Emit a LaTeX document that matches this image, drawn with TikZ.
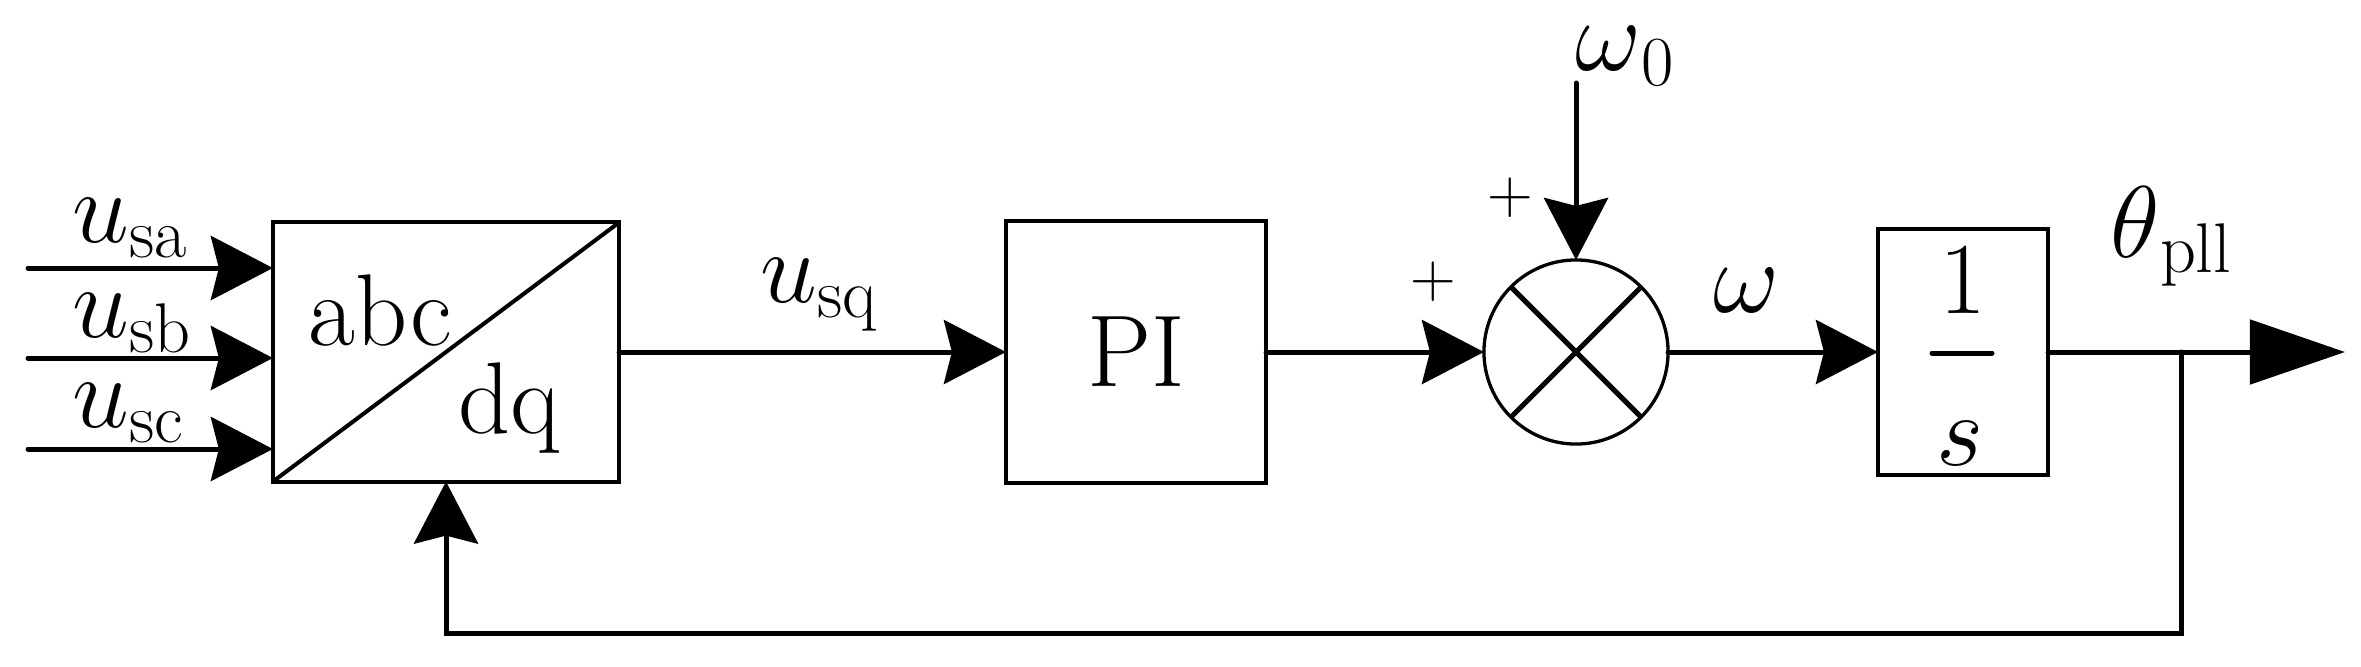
\RequirePackage{fix-cm}
\documentclass[tikz,border=0pt]{standalone}
\usepackage{fontspec}
\usetikzlibrary{arrows.meta}
\newcommand\bigf{\fontsize{29}{29}\selectfont}
\newcommand\lowsub[1]{\raisebox{-4.3pt}{\fontsize{20}{20}\selectfont #1}}
\begin{document}
\begin{tikzpicture}[x=0.01cm,y=-0.01cm,
  wire/.style={line width=1.42pt, line cap=round},
  arr/.style={wire, -{Stealth[length=0.62cm,width=0.64cm,inset=0.08cm]}},
  outarr/.style={wire, -{Triangle[length=0.95cm,width=0.64cm]}},
  blockbox/.style={draw, line width=1.14pt, inner sep=0pt, outer sep=0pt},
  thinbox/.style={draw, line width=0.94pt, inner sep=0pt, outer sep=0pt},
  lbl/.style={inner sep=0pt, anchor=base west, font=\bigf},
  plus/.style={inner sep=0pt, font=\fontsize{18}{18}\selectfont},
  ]
\useasboundingbox (0,0) rectangle (2361,666);

% abc/dq converter
\node[blockbox, minimum width=3.46cm, minimum height=2.59cm] (conv) at (446,352) {};
\draw[line width=1.14pt] (conv.south west) -- (conv.north east);
\node[lbl] (abc) at (308,345) {abc};
\node[lbl] (dq) at (458,433) {dq};

% inputs
\coordinate (ia) at (28,268);
\coordinate (ib) at (28,358);
\coordinate (ic) at (28,449);
\draw[arr] (ia) -- (ia -| conv.west);
\draw[arr] (ib) -- (ib -| conv.west);
\draw[arr] (ic) -- (ic -| conv.west);
\node[lbl] (lsa) at (72,242) {$u$\lowsub{sa}};
\node[lbl] (lsb) at (72,337) {$u$\lowsub{sb}};
\node[lbl] (lsc) at (72,427) {$u$\lowsub{sc}};

% PI
\node[blockbox, minimum width=2.60cm, minimum height=2.61cm, font=\bigf] (pi) at (1136,352) {PI};
\draw[arr] (conv.east) -- (pi.west);
\node[lbl] (lsq) at (760,302) {$u$\lowsub{sq}};

% summing junction
\node[circle, draw, line width=0.94pt, minimum size=1.84cm, inner sep=0pt, outer sep=0pt] (sum) at (1576,352) {};
\draw[line width=1.42pt] (sum.north west) -- (sum.south east);
\draw[line width=1.42pt] (sum.north east) -- (sum.south west);
\draw[arr] (pi.east) -- (sum.west);
\coordinate (w0) at (1576,83);
\draw[arr] (w0) -- (sum.north);
\node[lbl] (lw0) at (1575,70) {$\omega$\lowsub{0}};
\node[plus] (p1) at (1510,198) {+};
\node[plus] (p2) at (1433,282) {+};

% integrator
\node[thinbox, minimum width=1.70cm, minimum height=2.46cm] (int) at (1963,352) {};
\draw[arr] (sum.east) -- (int.west);
\node[lbl] (lw) at (1713,312) {$\omega$};
\node[inner sep=0pt, anchor=base, font=\bigf] (one) at (1963,313) {1};
\draw[line width=1.42pt, line cap=round] (1932,353) -- (1992,353);
\node[inner sep=0pt, anchor=base, font=\bigf] (ess) at (1960,465) {$s$};

% output and feedback
\coordinate (out) at (2345,352);
\draw[outarr] (int.east) -- (out);
\node[lbl] (lth) at (2110,257) {$\theta$\lowsub{pll}};
\coordinate (br) at (2181,352);
\coordinate (fb) at (2181,633);
\draw[arr] (br) -- (fb) -| (conv.south);
\end{tikzpicture}
\end{document}
